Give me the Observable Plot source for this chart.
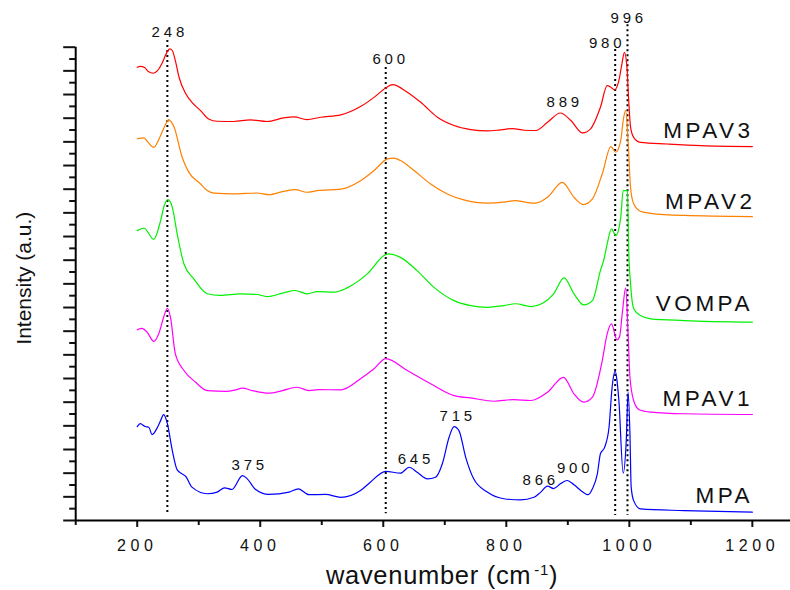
<!DOCTYPE html>
<html>
<head>
<meta charset="utf-8">
<script src="https://cdn.jsdelivr.net/npm/d3@7"></script>
<script src="https://cdn.jsdelivr.net/npm/@observablehq/plot@0.6"></script>
<style>
  html, body { margin: 0; padding: 0; background: #fff; }
  #chart { width: 790px; height: 590px; }
</style>
</head>
<body>
<div id="chart"></div>
<script>
// ---------- data ----------
const seriesNames  = ["MPAV3", "MPAV2", "VOMPA", "MPAV1", "MPA"];
const seriesColors = ["#ff0000", "#ff8000", "#00f000", "#ff00ff", "#0000ff"];

// [wavenumber (cm-1), intensity (a.u., stacked)]
const MPAV3 = [[200,19.15],[205,19.19],[212,19.14],[218,18.97],[226,18.90],[233,19.01],[241,19.35],[248,19.77],[253,19.93],[257,19.86],[262,19.43],[268,18.73],[279,18.03],[289,17.67],[303,17.32],[316,16.97],[330,16.87],[357,16.86],[384,16.93],[411,16.86],[438,17.01],[455,17.06],[476,16.94],[498,17.04],[531,17.14],[563,17.49],[585,17.88],[604,18.28],[615,18.42],[639,18.10],[661,17.67],[688,17.04],[715,16.69],[742,16.52],[769,16.46],[791,16.51],[810,16.56],[829,16.49],[848,16.48],[867,16.83],[888,17.22],[905,16.90],[924,16.38],[937,16.55],[953,17.46],[964,18.38],[970,18.31],[976,18.20],[983,18.59],[988,19.30],[992,19.78],[996,19.20],[999,17.75],[1002,16.62],[1007,16.19],[1018,15.98],[1062,15.91],[1116,15.84],[1200,15.80]];
const MPAV2 = [[200,16.13],[211,16.17],[217,16.00],[227,15.77],[238,16.27],[246,16.73],[251,16.94],[255,16.85],[260,16.62],[273,15.35],[284,14.71],[303,14.22],[314,13.94],[325,13.83],[357,13.80],[395,13.84],[414,13.77],[438,13.91],[457,13.98],[476,13.87],[493,13.94],[531,14.00],[563,14.36],[585,14.79],[607,15.28],[617,15.31],[628,15.21],[650,14.79],[677,14.22],[704,13.80],[731,13.55],[769,13.41],[796,13.45],[815,13.52],[831,13.45],[848,13.41],[867,13.66],[891,14.29],[910,13.66],[925,13.35],[940,13.59],[956,14.65],[970,15.80],[978,15.56],[986,16.05],[990,16.90],[994,17.33],[998,16.05],[1002,14.08],[1007,13.38],[1018,13.07],[1035,12.98],[1089,12.89],[1200,12.84]];
const VOMPA = [[200,12.25],[211,12.35],[227,11.88],[238,12.67],[244,13.31],[250,13.56],[257,13.24],[265,12.11],[276,10.84],[292,10.21],[314,9.58],[335,9.51],[368,9.58],[395,9.55],[411,9.46],[438,9.62],[457,9.72],[476,9.58],[493,9.67],[520,9.65],[541,9.83],[574,10.42],[604,11.24],[609,11.27],[628,11.12],[655,10.56],[682,9.86],[715,9.29],[742,9.08],[769,9.01],[796,9.08],[815,9.16],[840,9.04],[859,9.18],[877,9.58],[894,10.25],[910,9.58],[926,9.11],[940,9.29],[953,10.56],[959,11.06],[964,11.69],[971,12.32],[978,12.04],[986,12.81],[990,13.94],[997,13.94],[999,11.41],[1002,10.01],[1007,8.96],[1018,8.66],[1035,8.52],[1089,8.45],[1200,8.38]];
const MPAV1 = [[200,8.06],[208,8.12],[216,7.96],[227,7.57],[235,7.89],[243,8.59],[249,8.97],[254,8.59],[262,7.04],[276,6.34],[295,5.84],[314,5.49],[344,5.46],[360,5.52],[371,5.59],[387,5.49],[414,5.38],[436,5.49],[460,5.63],[479,5.49],[495,5.53],[531,5.52],[563,5.99],[585,6.41],[604,6.84],[639,6.34],[677,5.78],[715,5.28],[742,5.18],[780,5.04],[812,5.11],[840,5.07],[867,5.42],[893,6.05],[910,5.35],[926,5.00],[940,5.21],[956,6.76],[964,7.89],[971,8.31],[980,7.63],[984,7.75],[989,8.87],[994,9.83],[998,7.89],[1001,6.05],[1007,5.07],[1016,4.68],[1035,4.58],[1089,4.51],[1200,4.48]];
const MPA   = [[200,3.97],[205,4.09],[213,3.97],[219,3.94],[224,3.63],[233,3.94],[238,4.22],[243,4.47],[249,4.09],[257,2.96],[265,2.14],[273,1.97],[279,1.86],[289,1.41],[314,1.13],[330,1.20],[342,1.38],[354,1.31],[371,1.90],[379,1.76],[392,1.32],[414,1.10],[447,1.20],[462,1.34],[479,1.09],[506,1.10],[531,0.98],[563,1.27],[579,1.62],[604,2.08],[628,2.00],[642,2.25],[655,2.04],[672,1.76],[685,1.83],[696,2.40],[707,3.52],[715,3.97],[723,3.80],[734,2.67],[747,1.76],[769,1.20],[796,0.92],[823,0.87],[845,0.98],[856,1.20],[867,1.45],[877,1.35],[888,1.55],[899,1.69],[910,1.51],[921,1.27],[933,1.09],[940,1.34],[948,1.97],[953,2.82],[960,3.10],[967,3.94],[972,5.63],[977,6.31],[980,5.90],[983,5.07],[990,2.00],[995,3.38],[998,5.42],[1001,3.66],[1003,1.41],[1007,0.84],[1018,0.49],[1089,0.42],[1200,0.35]];
const seriesData = [MPAV3, MPAV2, VOMPA, MPAV1, MPA];

// series name labels (right side)
const labelX = [1202, 1205, 1201, 1201, 1201];
const labelY = [16.48, 13.48, 9.17, 5.15, 1.06];

// dotted guide lines
const guideX      = [249, 604, 977, 997];
const guideTop    = [20.28, 19.14, 19.90, 20.95];
const guideBottom = [0.28, 0.28, 0.21, 0.21];

// peak annotations
const peakText = ["248", "600", "980", "996", "889", "375", "715", "645", "866", "900"];
const peakX    = [253, 612, 964, 999, 895, 383, 721, 653, 856, 912];
const peakY    = [20.62, 19.48, 20.17, 21.21, 17.67, 2.32, 4.40, 2.59, 1.69, 2.23];

// axis ticks
const xMajor = [200, 400, 600, 800, 1000, 1200];
const xMinor = [100, 300, 500, 700, 900, 1100];
const yMajor = d3.range(0, 21, 1);
const yMinor = d3.range(0.5, 20, 1);

// ---------- tables ----------
const guides = guideX.map((x, i) => ({x, top: guideTop[i], bottom: guideBottom[i]}));
const peaks = peakText.map((t, i) => ({t, x: peakX[i], y: peakY[i]}));
const names = seriesNames.map((t, i) => ({t, x: labelX[i], y: labelY[i]}));

const font = "'Liberation Sans', Arial, Helvetica, sans-serif";

const svg = Plot.plot({
  width: 790,
  height: 590,
  marginLeft: 75.2,
  marginRight: 0,
  marginTop: 46.7,
  marginBottom: 70,
  x: {domain: [100, 1262], label: null},
  y: {domain: [0, 20], label: null},
  style: {fontFamily: font, background: "#fff", color: "#111", overflow: "visible"},
  marks: [
    Plot.axisX({ticks: xMajor, tickSize: 7, tickPadding: 12, fontSize: 16, strokeWidth: 2, label: null, tickFormat: d => String(d), fill: "#111"}),
    Plot.axisX({ticks: xMinor, tickSize: 5, strokeWidth: 2, label: null, tickFormat: () => ""}),
    Plot.axisY({ticks: yMajor, tickSize: 12, strokeWidth: 2, label: null, tickFormat: () => ""}),
    Plot.axisY({ticks: yMinor, tickSize: 6, strokeWidth: 2, label: null, tickFormat: () => ""}),
    Plot.ruleY([0], {stroke: "#000", strokeWidth: 2}),
    Plot.ruleX([100], {y1: 0, y2: 20, stroke: "#000", strokeWidth: 2}),
    Plot.ruleX(guides, {x: "x", y1: "top", y2: "bottom", stroke: "#000", strokeWidth: 2, strokeDasharray: "2 3"}),
    ...seriesData.map((pts, i) => Plot.line(pts, {
      x: d => d[0], y: d => d[1], stroke: seriesColors[i], strokeWidth: 1.2, curve: "monotone-x"
    })),
    Plot.text(peaks, {x: "x", y: "y", text: "t", fontSize: 15, fill: "#111"}),
    Plot.text(names, {x: "x", y: "y", text: "t", fontSize: 22.5, textAnchor: "end", fill: "#111"}),
    Plot.text(["wavenumber (cm-1)"], {x: 695.6, y: -2.33, text: d => d, fontSize: 25.5, fill: "#111"}),
    Plot.text(["Intensity (a.u.)"], {x: 15.6, y: 10.24, text: d => d, fontSize: 21, rotate: -90, fill: "#111"})
  ]
});

// letter spacing like the original figure
svg.querySelectorAll('g[aria-label="x-axis tick label"]').forEach(g => g.style.letterSpacing = "4.6px");
const textGroups = svg.querySelectorAll('g[aria-label="text"]');
const spacing = ["3.8px", "3.5px", "0.7px", "0px"];
textGroups.forEach((g, i) => { g.style.letterSpacing = spacing[i] || "0px"; });

// superscript in the x title
if (textGroups[2]) {
  const el = textGroups[2].querySelector("text");
  const t = d3.select(el);
  t.text(null);
  t.append("tspan").text("wavenumber (cm");
  t.append("tspan").attr("dx", 3).attr("dy", -9).attr("font-size", 15).text("-1");
  t.append("tspan").attr("dy", 9).text(")");
}

document.getElementById("chart").appendChild(svg);
</script>
</body>
</html>
